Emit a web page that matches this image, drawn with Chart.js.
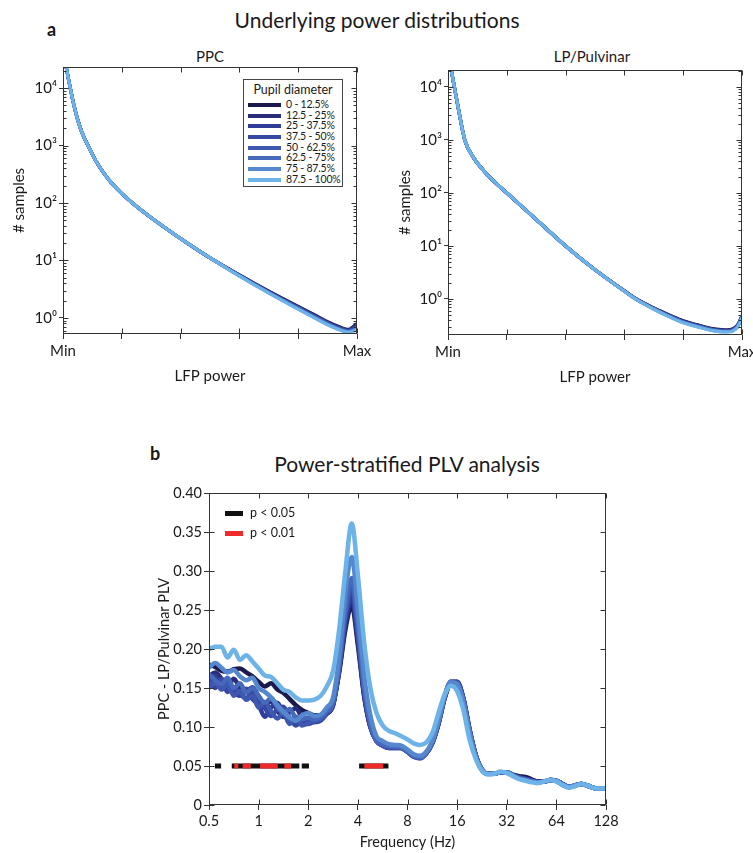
<!DOCTYPE html>
<html>
<head>
<meta charset="utf-8">
<title>Underlying power distributions / Power-stratified PLV analysis</title>
<script src="https://cdn.jsdelivr.net/npm/chart.js@4.4.1/dist/chart.umd.min.js"></script>
<style>
  body { margin: 0; width: 753px; height: 853px; overflow: hidden; background: #fff;
         position: relative; font-family: Lato, "Noto Sans", sans-serif; color: #1a1a1a; }
  canvas, .txt { position: absolute; }
  .txt { white-space: nowrap; line-height: 1; }
  .big { font-size: 21px; width: 500px; text-align: center; }
  .letter { font-size: 18px; font-weight: bold; }
  .sub { font-size: 15px; width: 200px; text-align: center; }
  #pupilKey { position: absolute; left: 243px; top: 79px; width: 98px; height: 106px;
              border: 1px solid #444; background: #fff; }
  #pupilKey .head { position: absolute; left: 0; width: 98px; top: 4px; font-size: 12.5px; text-align: center; line-height: 1; }
  .row { position: absolute; left: 4px; height: 11px; font-size: 10.5px; line-height: 11px; letter-spacing: -0.2px; }
  .row i { position: absolute; left: 0; top: 4px; width: 33px; height: 4px; }
  .row span { position: absolute; left: 38px; top: 0; white-space: nowrap; }
  .sig { position: absolute; left: 225px; font-size: 12.5px; line-height: 12px; height: 12px; }
  .sig i { position: absolute; left: 0; top: 4px; width: 18px; height: 5px; }
  .sig span { position: absolute; left: 25px; top: 0; white-space: nowrap; }
</style>
</head>
<body>
<div class="txt letter" style="left:47px; top:20px;">a</div>
<div class="txt big" style="left:127px; top:9px;">Underlying power distributions</div>
<div class="txt sub" style="left:110px; top:49px;">PPC</div>
<div class="txt sub" style="left:492px; top:49px;">LP/Pulvinar</div>
<div class="txt letter" style="left:150px; top:444px;">b</div>
<div class="txt big" style="left:157px; top:453px;">Power-stratified PLV analysis</div>

<canvas id="ppcChart" width="376" height="360" style="left:0px; top:40px;"></canvas>
<canvas id="lpChart" width="390" height="360" style="left:380px; top:40px;"></canvas>
<canvas id="plvChart" width="490" height="373" style="left:140px; top:480px;"></canvas>

<div id="pupilKey"><div class="head">Pupil diameter</div></div>
<div id="sigKey"></div>

<script>
// pupil bins and their colours
const pupilBins = ['0 - 12.5%', '12.5 - 25%', '25 - 37.5%', '37.5 - 50%',
                   '50 - 62.5%', '62.5 - 75%', '75 - 87.5%', '87.5 - 100%'];
const binColors = ['#1b1a4d', '#282c7a', '#303d98', '#3748a4',
                   '#3e58b0', '#4669bb', '#5588cf', '#6db3e8'];

// panel a: power axis (Min..Max) and sample counts
const powerTicks = [0, 0.2, 0.4, 0.6, 0.8, 1];
const ppcPower = [0.006, 0.02, 0.035, 0.05, 0.065, 0.085, 0.11, 0.14, 0.17, 0.2, 0.24, 0.3, 0.36,
                  0.42, 0.5, 0.6, 0.7, 0.8, 0.86, 0.9, 0.94, 0.97, 1.0];
const ppcS1 = [31600, 13200, 5620, 2820, 1660, 1000, 562, 324, 209, 146, 96.4, 55.5, 33.3, 20.5, 11.1, 5.6, 2.92, 1.58, 1.1, 0.86, 0.7, 0.63, 0.8];
const ppcS2 = [31600, 13200, 5620, 2820, 1660, 1000, 562, 324, 209, 146, 96.4, 55.5, 33.3, 20.5, 11.1, 5.57, 2.89, 1.56, 1.08, 0.845, 0.69, 0.62, 0.77];
const ppcS3 = [31600, 13200, 5620, 2820, 1660, 1000, 562, 324, 209, 146, 96.4, 55.5, 33.3, 20.5, 11.1, 5.53, 2.86, 1.53, 1.06, 0.83, 0.675, 0.61, 0.74];
const ppcS4 = [31600, 13200, 5620, 2820, 1660, 1000, 562, 324, 209, 146, 96.4, 55.5, 33.3, 20.5, 11.1, 5.5, 2.82, 1.51, 1.04, 0.815, 0.665, 0.6, 0.71];
const ppcS5 = [31600, 13200, 5620, 2820, 1660, 1000, 562, 324, 209, 146, 96.4, 55.5, 33.3, 20.5, 11.1, 5.46, 2.79, 1.48, 1.02, 0.8, 0.65, 0.59, 0.68];
const ppcS6 = [31600, 13200, 5620, 2820, 1660, 1000, 562, 324, 209, 146, 96.4, 55.5, 33.3, 20.5, 11.1, 5.43, 2.76, 1.46, 1.0, 0.785, 0.64, 0.58, 0.66];
const ppcS7 = [31600, 13200, 5620, 2820, 1660, 1000, 562, 324, 209, 146, 96.4, 55.5, 33.3, 20.5, 11.1, 5.39, 2.73, 1.44, 0.985, 0.77, 0.63, 0.57, 0.64];
const ppcS8 = [31600, 13200, 5620, 2820, 1660, 1000, 562, 324, 209, 146, 96.4, 55.5, 33.3, 20.5, 11.1, 5.35, 2.7, 1.42, 0.97, 0.76, 0.62, 0.56, 0.62];

const lpPower = [0.006, 0.02, 0.035, 0.057, 0.085, 0.12, 0.16, 0.204, 0.3, 0.402, 0.5, 0.6,
                 0.641, 0.7, 0.76, 0.8, 0.856, 0.9, 0.93, 0.95, 0.97, 0.985, 1.0];
const lpS1 = [29500, 11200, 3980, 1000, 479, 269, 158, 95.5, 31.6, 9.77, 3.55, 1.42, 1.0, 0.676, 0.479, 0.389, 0.316, 0.275, 0.263, 0.26, 0.275, 0.324, 0.48];
const lpS2 = [29500, 11200, 3980, 1000, 479, 269, 158, 95.5, 31.6, 9.77, 3.55, 1.42, 0.995, 0.671, 0.474, 0.384, 0.312, 0.271, 0.259, 0.257, 0.271, 0.320, 0.475];
const lpS3 = [29500, 11200, 3980, 1000, 479, 269, 158, 95.5, 31.6, 9.77, 3.55, 1.41, 0.99, 0.665, 0.468, 0.379, 0.308, 0.268, 0.256, 0.254, 0.267, 0.316, 0.47];
const lpS4 = [29500, 11200, 3980, 1000, 479, 269, 158, 95.5, 31.6, 9.77, 3.55, 1.41, 0.985, 0.66, 0.463, 0.374, 0.304, 0.264, 0.253, 0.25, 0.263, 0.311, 0.465];
const lpS5 = [29500, 11200, 3980, 1000, 479, 269, 158, 95.5, 31.6, 9.77, 3.55, 1.41, 0.98, 0.655, 0.457, 0.369, 0.300, 0.261, 0.249, 0.247, 0.259, 0.307, 0.46];
const lpS6 = [29500, 11200, 3980, 1000, 479, 269, 158, 95.5, 31.6, 9.77, 3.55, 1.4, 0.978, 0.65, 0.452, 0.365, 0.297, 0.258, 0.246, 0.244, 0.256, 0.303, 0.455];
const lpS7 = [29500, 11200, 3980, 1000, 479, 269, 158, 95.5, 31.6, 9.77, 3.55, 1.4, 0.974, 0.645, 0.446, 0.36, 0.293, 0.255, 0.243, 0.241, 0.253, 0.299, 0.448];
const lpS8 = [29500, 11200, 3980, 1000, 479, 269, 158, 95.5, 31.6, 9.77, 3.55, 1.4, 0.97, 0.64, 0.44, 0.355, 0.29, 0.252, 0.24, 0.238, 0.25, 0.295, 0.44];

// panel b: frequency (Hz) and PLV per pupil bin
const freqs = [0.5, 0.545, 0.595, 0.648, 0.707, 0.771, 0.841, 0.917,
               1, 1.09, 1.19, 1.3, 1.41, 1.54, 1.68, 1.83,
               2, 2.18, 2.38, 2.59, 2.83, 3.08, 3.36, 3.67,
               4, 4.36, 4.76, 5.19, 5.66, 6.17, 6.73, 7.34,
               8, 8.72, 9.51, 10.37, 11.31, 12.34, 13.45, 14.67,
               16, 17.45, 19.03, 20.75, 22.63, 24.68, 26.91, 29.34,
               32, 34.9, 38.05, 41.5, 45.25, 49.35, 53.82, 58.69,
               64, 69.79, 76.11, 83, 90.51, 98.7, 107.63, 117.38, 128];
const freqTicks = [0.5, 1, 2, 4, 8, 16, 32, 64, 128];

const plvS1 = [0.180, 0.177, 0.172, 0.171, 0.174, 0.175, 0.170, 0.165,
               0.158, 0.152, 0.156, 0.148, 0.144, 0.136, 0.128, 0.122,
               0.118, 0.115, 0.115, 0.118, 0.130, 0.170, 0.225, 0.256,
               0.205, 0.140, 0.100, 0.083, 0.077, 0.075, 0.075, 0.075,
               0.070, 0.064, 0.062, 0.067, 0.080, 0.105, 0.138, 0.157,
               0.157, 0.136, 0.096, 0.064, 0.046, 0.040, 0.040, 0.042,
               0.042, 0.039, 0.037, 0.036, 0.033, 0.030, 0.030, 0.032,
               0.031, 0.027, 0.023, 0.025, 0.027, 0.025, 0.022, 0.021, 0.021];
const plvS2 = [0.165, 0.170, 0.162, 0.152, 0.162, 0.150, 0.146, 0.151,
               0.139, 0.128, 0.133, 0.121, 0.113, 0.119, 0.124, 0.113,
               0.108, 0.110, 0.112, 0.117, 0.128, 0.172, 0.230, 0.262,
               0.210, 0.142, 0.100, 0.082, 0.077, 0.074, 0.074, 0.074,
               0.069, 0.063, 0.061, 0.066, 0.079, 0.104, 0.137, 0.157,
               0.158, 0.137, 0.097, 0.064, 0.045, 0.040, 0.040, 0.042,
               0.042, 0.038, 0.036, 0.034, 0.032, 0.030, 0.030, 0.032,
               0.031, 0.027, 0.023, 0.025, 0.027, 0.025, 0.022, 0.021, 0.021];
const plvS3 = [0.155, 0.166, 0.151, 0.158, 0.145, 0.140, 0.149, 0.136,
               0.128, 0.113, 0.125, 0.131, 0.118, 0.108, 0.113, 0.104,
               0.104, 0.107, 0.110, 0.117, 0.128, 0.174, 0.234, 0.268,
               0.214, 0.144, 0.101, 0.082, 0.076, 0.073, 0.073, 0.073,
               0.068, 0.063, 0.061, 0.066, 0.079, 0.104, 0.137, 0.157,
               0.158, 0.137, 0.097, 0.064, 0.045, 0.040, 0.040, 0.042,
               0.042, 0.038, 0.035, 0.033, 0.031, 0.030, 0.030, 0.032,
               0.031, 0.027, 0.023, 0.025, 0.027, 0.025, 0.022, 0.021, 0.021];
const plvS4 = [0.160, 0.150, 0.162, 0.145, 0.151, 0.142, 0.137, 0.145,
               0.130, 0.124, 0.114, 0.123, 0.126, 0.112, 0.102, 0.108,
               0.110, 0.106, 0.108, 0.117, 0.129, 0.176, 0.240, 0.276,
               0.220, 0.147, 0.102, 0.082, 0.076, 0.073, 0.073, 0.073,
               0.068, 0.062, 0.060, 0.066, 0.080, 0.106, 0.139, 0.158,
               0.157, 0.135, 0.095, 0.063, 0.045, 0.040, 0.040, 0.042,
               0.042, 0.038, 0.035, 0.033, 0.031, 0.029, 0.030, 0.032,
               0.031, 0.026, 0.023, 0.025, 0.027, 0.025, 0.022, 0.021, 0.021];
const plvS5 = [0.150, 0.158, 0.148, 0.155, 0.140, 0.146, 0.135, 0.140,
               0.125, 0.132, 0.120, 0.111, 0.118, 0.104, 0.110, 0.102,
               0.105, 0.108, 0.110, 0.119, 0.130, 0.178, 0.245, 0.282,
               0.224, 0.149, 0.103, 0.082, 0.077, 0.074, 0.074, 0.073,
               0.068, 0.062, 0.060, 0.066, 0.080, 0.106, 0.139, 0.158,
               0.157, 0.135, 0.095, 0.063, 0.045, 0.040, 0.040, 0.042,
               0.042, 0.038, 0.035, 0.033, 0.031, 0.029, 0.030, 0.032,
               0.031, 0.026, 0.023, 0.025, 0.027, 0.025, 0.022, 0.021, 0.021];
const plvS6 = [0.168, 0.160, 0.155, 0.163, 0.150, 0.156, 0.144, 0.150,
               0.140, 0.131, 0.137, 0.125, 0.118, 0.123, 0.112, 0.110,
               0.112, 0.110, 0.113, 0.121, 0.132, 0.181, 0.252, 0.291,
               0.231, 0.153, 0.105, 0.083, 0.078, 0.075, 0.075, 0.074,
               0.069, 0.063, 0.061, 0.067, 0.081, 0.107, 0.140, 0.158,
               0.156, 0.134, 0.094, 0.062, 0.045, 0.040, 0.040, 0.042,
               0.042, 0.038, 0.034, 0.032, 0.030, 0.029, 0.030, 0.032,
               0.031, 0.026, 0.023, 0.025, 0.027, 0.025, 0.022, 0.021, 0.021];
const plvS7 = [0.176, 0.182, 0.176, 0.170, 0.173, 0.165, 0.160, 0.163,
               0.150, 0.145, 0.138, 0.128, 0.120, 0.112, 0.108, 0.115,
               0.118, 0.114, 0.116, 0.125, 0.138, 0.190, 0.272, 0.318,
               0.250, 0.168, 0.115, 0.088, 0.082, 0.078, 0.077, 0.076,
               0.071, 0.065, 0.063, 0.068, 0.082, 0.108, 0.140, 0.157,
               0.155, 0.132, 0.093, 0.062, 0.045, 0.040, 0.040, 0.042,
               0.042, 0.038, 0.034, 0.032, 0.030, 0.029, 0.030, 0.032,
               0.031, 0.026, 0.023, 0.025, 0.027, 0.025, 0.022, 0.021, 0.021];
const plvS8 = [0.200, 0.203, 0.203, 0.189, 0.199, 0.186, 0.192, 0.184,
               0.175, 0.166, 0.164, 0.156, 0.148, 0.145, 0.138, 0.134,
               0.134, 0.135, 0.140, 0.152, 0.172, 0.225, 0.300, 0.361,
               0.295, 0.210, 0.150, 0.118, 0.102, 0.095, 0.092, 0.088,
               0.084, 0.079, 0.077, 0.080, 0.092, 0.118, 0.142, 0.153,
               0.146, 0.122, 0.084, 0.059, 0.044, 0.039, 0.040, 0.043,
               0.041, 0.037, 0.033, 0.031, 0.029, 0.028, 0.030, 0.032,
               0.030, 0.026, 0.022, 0.024, 0.027, 0.025, 0.022, 0.021, 0.022];

// significance bars (frequency ranges, Hz), drawn at PLV = 0.05
const sigLevel = 0.05;
const sig05 = [[0.543, 0.592], [0.687, 1.766], [1.826, 2.02], [4.07, 6.13]];
const sig01 = [[0.712, 0.753], [0.801, 0.896], [1.02, 1.306], [1.432, 1.573], [4.38, 5.71]];
const sigNames = ['p < 0.05', 'p < 0.01'];
const sigColors = ['#111111', '#ee2a2a'];

Chart.defaults.font.family = 'Lato, "Noto Sans", sans-serif';
Chart.defaults.color = '#1a1a1a';
const AX = '#333';

// legends (HTML)
const key = document.getElementById('pupilKey');
pupilBins.forEach((name, i) => {
  const r = document.createElement('div');
  r.className = 'row';
  r.style.top = (18.8 + 10.7 * i) + 'px';
  r.innerHTML = '<i style="background:' + binColors[i] + '"></i><span>' + name + '</span>';
  key.appendChild(r);
});
const sk = document.getElementById('sigKey');
sigNames.forEach((name, i) => {
  const r = document.createElement('div');
  r.className = 'sig';
  r.style.top = (507 + 20 * i) + 'px';
  r.innerHTML = '<i style="background:' + sigColors[i] + '"></i><span>' + name + '</span>';
  sk.appendChild(r);
});

// box around the plot plus inward tick marks on all four sides
const frame = {
  id: 'frame',
  afterDraw(chart) {
    const { ctx, chartArea: a, scales: { x, y } } = chart;
    ctx.save();
    ctx.strokeStyle = AX;
    ctx.lineWidth = 1;
    const L = Math.round(a.left) + 0.5, R = Math.round(a.right) - 0.5;
    const T = Math.round(a.top) + 0.5, B = Math.round(a.bottom) - 0.5;
    ctx.strokeRect(L, T, R - L, B - T);
    ctx.beginPath();
    x.ticks.forEach(t => {
      const px = Math.round(x.getPixelForValue(t.value)) + 0.5;
      ctx.moveTo(px, T); ctx.lineTo(px, T + 5);
      ctx.moveTo(px, B); ctx.lineTo(px, B - 5);
    });
    y.ticks.forEach(t => {
      const py = Math.round(y.getPixelForValue(t.value)) + 0.5;
      const len = t.major === false ? 3 : 5;
      ctx.moveTo(L, py); ctx.lineTo(L + len, py);
      ctx.moveTo(R, py); ctx.lineTo(R - len, py);
    });
    ctx.stroke();
    ctx.restore();
  }
};

function lineSets(xs, series, width) {
  return series.map((vals, i) => ({
    label: pupilBins[i],
    data: xs.map((x, j) => ({ x: x, y: vals[j] })),
    borderColor: binColors[i],
    borderWidth: width,
    pointRadius: 0,
    fill: false,
    cubicInterpolationMode: 'monotone',
    order: series.length - i
  }));
}

function sigSet(segs, color, order) {
  const data = [];
  segs.forEach(([a, b]) => {
    data.push({ x: a, y: sigLevel }, { x: b, y: sigLevel }, { x: b, y: null });
  });
  return { label: color, data, borderColor: color, borderWidth: 5, pointRadius: 0,
           borderCapStyle: 'butt', spanGaps: false, tension: 0, order };
}

const sup = { '0': '\u2070', '1': '\u00b9', '2': '\u00b2', '3': '\u00b3', '4': '\u2074' };
function decadeTicks(scale) {
  const t = [];
  for (let e = -1; e <= 4; e++) {
    for (let m = 1; m <= 9; m++) {
      const v = m * Math.pow(10, e);
      if (v >= scale.min && v <= scale.max) t.push({ value: v, major: m === 1 });
    }
  }
  scale.ticks = t;
}
function decadeLabel(v) {
  const l = Math.log10(v), e = Math.round(l);
  return Math.abs(l - e) < 1e-6 ? '10' + sup[String(e)] : '';
}

function powerChart(id, xs, series, yMin, yMax, pad, yW, xH, yTitlePad) {
  return new Chart(document.getElementById(id), {
    type: 'line',
    data: { datasets: lineSets(xs, series, 3.2) },
    options: {
      responsive: false,
      animation: false,
      layout: { padding: pad },
      plugins: { legend: { display: false }, tooltip: { enabled: false } },
      scales: {
        x: {
          type: 'linear', min: 0, max: 1,
          afterBuildTicks: s => { s.ticks = powerTicks.map(v => ({ value: v })); },
          ticks: { autoSkip: false, maxRotation: 0, padding: 3, font: { size: 15 },
                   callback: v => v === 0 ? 'Min' : (v === 1 ? 'Max' : '') },
          grid: { drawOnChartArea: false, tickLength: 5, color: AX },
          border: { display: false },
          title: { display: true, text: 'LFP power', font: { size: 15 }, padding: { top: 0, bottom: 0 } },
          afterFit: s => { s.height = xH; }
        },
        y: {
          type: 'logarithmic', min: yMin, max: yMax,
          afterBuildTicks: decadeTicks,
          ticks: { autoSkip: false, padding: 2, font: { size: 15 }, callback: decadeLabel },
          grid: { drawOnChartArea: false, tickLength: 4,
                  color: c => (c.tick && c.tick.major) ? AX : 'rgba(0,0,0,0)' },
          border: { display: false },
          title: { display: true, text: '# samples', font: { size: 15 }, padding: { top: yTitlePad, bottom: 0 } },
          afterFit: s => { s.width = yW; }
        }
      }
    },
    plugins: [frame]
  });
}

powerChart('ppcChart', ppcPower, [ppcS1, ppcS2, ppcS3, ppcS4, ppcS5, ppcS6, ppcS7, ppcS8],
           0.525, 23300, { left: 0, top: 27, right: 19, bottom: 15 }, 63, 51, 10);
powerChart('lpChart', lpPower, [lpS1, lpS2, lpS3, lpS4, lpS5, lpS6, lpS7, lpS8],
           0.209, 20900, { left: 0, top: 30, right: 28, bottom: 14 }, 68, 51, 16);

const plvSets = lineSets(freqs, [plvS1, plvS2, plvS3, plvS4, plvS5, plvS6, plvS7, plvS8], 4.5);
plvSets.push(sigSet(sig05, sigColors[0], -1));
plvSets.push(sigSet(sig01, sigColors[1], -2));

new Chart(document.getElementById('plvChart'), {
  type: 'line',
  data: { datasets: plvSets },
  options: {
    responsive: false,
    animation: false,
    layout: { padding: { left: 0, top: 13, right: 24, bottom: 0 } },
    plugins: { legend: { display: false }, tooltip: { enabled: false } },
    scales: {
      x: {
        type: 'logarithmic', min: 0.5, max: 128,
        afterBuildTicks: s => { s.ticks = freqTicks.map(v => ({ value: v })); },
        ticks: { autoSkip: false, maxRotation: 0, padding: 3, font: { size: 14.5 }, callback: v => String(v) },
        grid: { drawOnChartArea: false, tickLength: 5, color: AX },
        border: { display: false },
        title: { display: true, text: 'Frequency (Hz)', font: { size: 14.5 }, padding: { top: 0, bottom: 2 } },
        afterFit: s => { s.height = 48; }
      },
      y: {
        type: 'linear', min: 0, max: 0.4,
        ticks: { stepSize: 0.05, padding: 2, font: { size: 14.5 },
                 callback: v => v === 0 ? '0' : v.toFixed(2) },
        grid: { drawOnChartArea: false, tickLength: 5, color: AX },
        border: { display: false },
        title: { display: true, text: 'PPC - LP/Pulvinar PLV', font: { size: 14.5 }, padding: { top: 16, bottom: 0 } },
        afterFit: s => { s.width = 69; }
      }
    }
  },
  plugins: [frame]
});
</script>
</body>
</html>
